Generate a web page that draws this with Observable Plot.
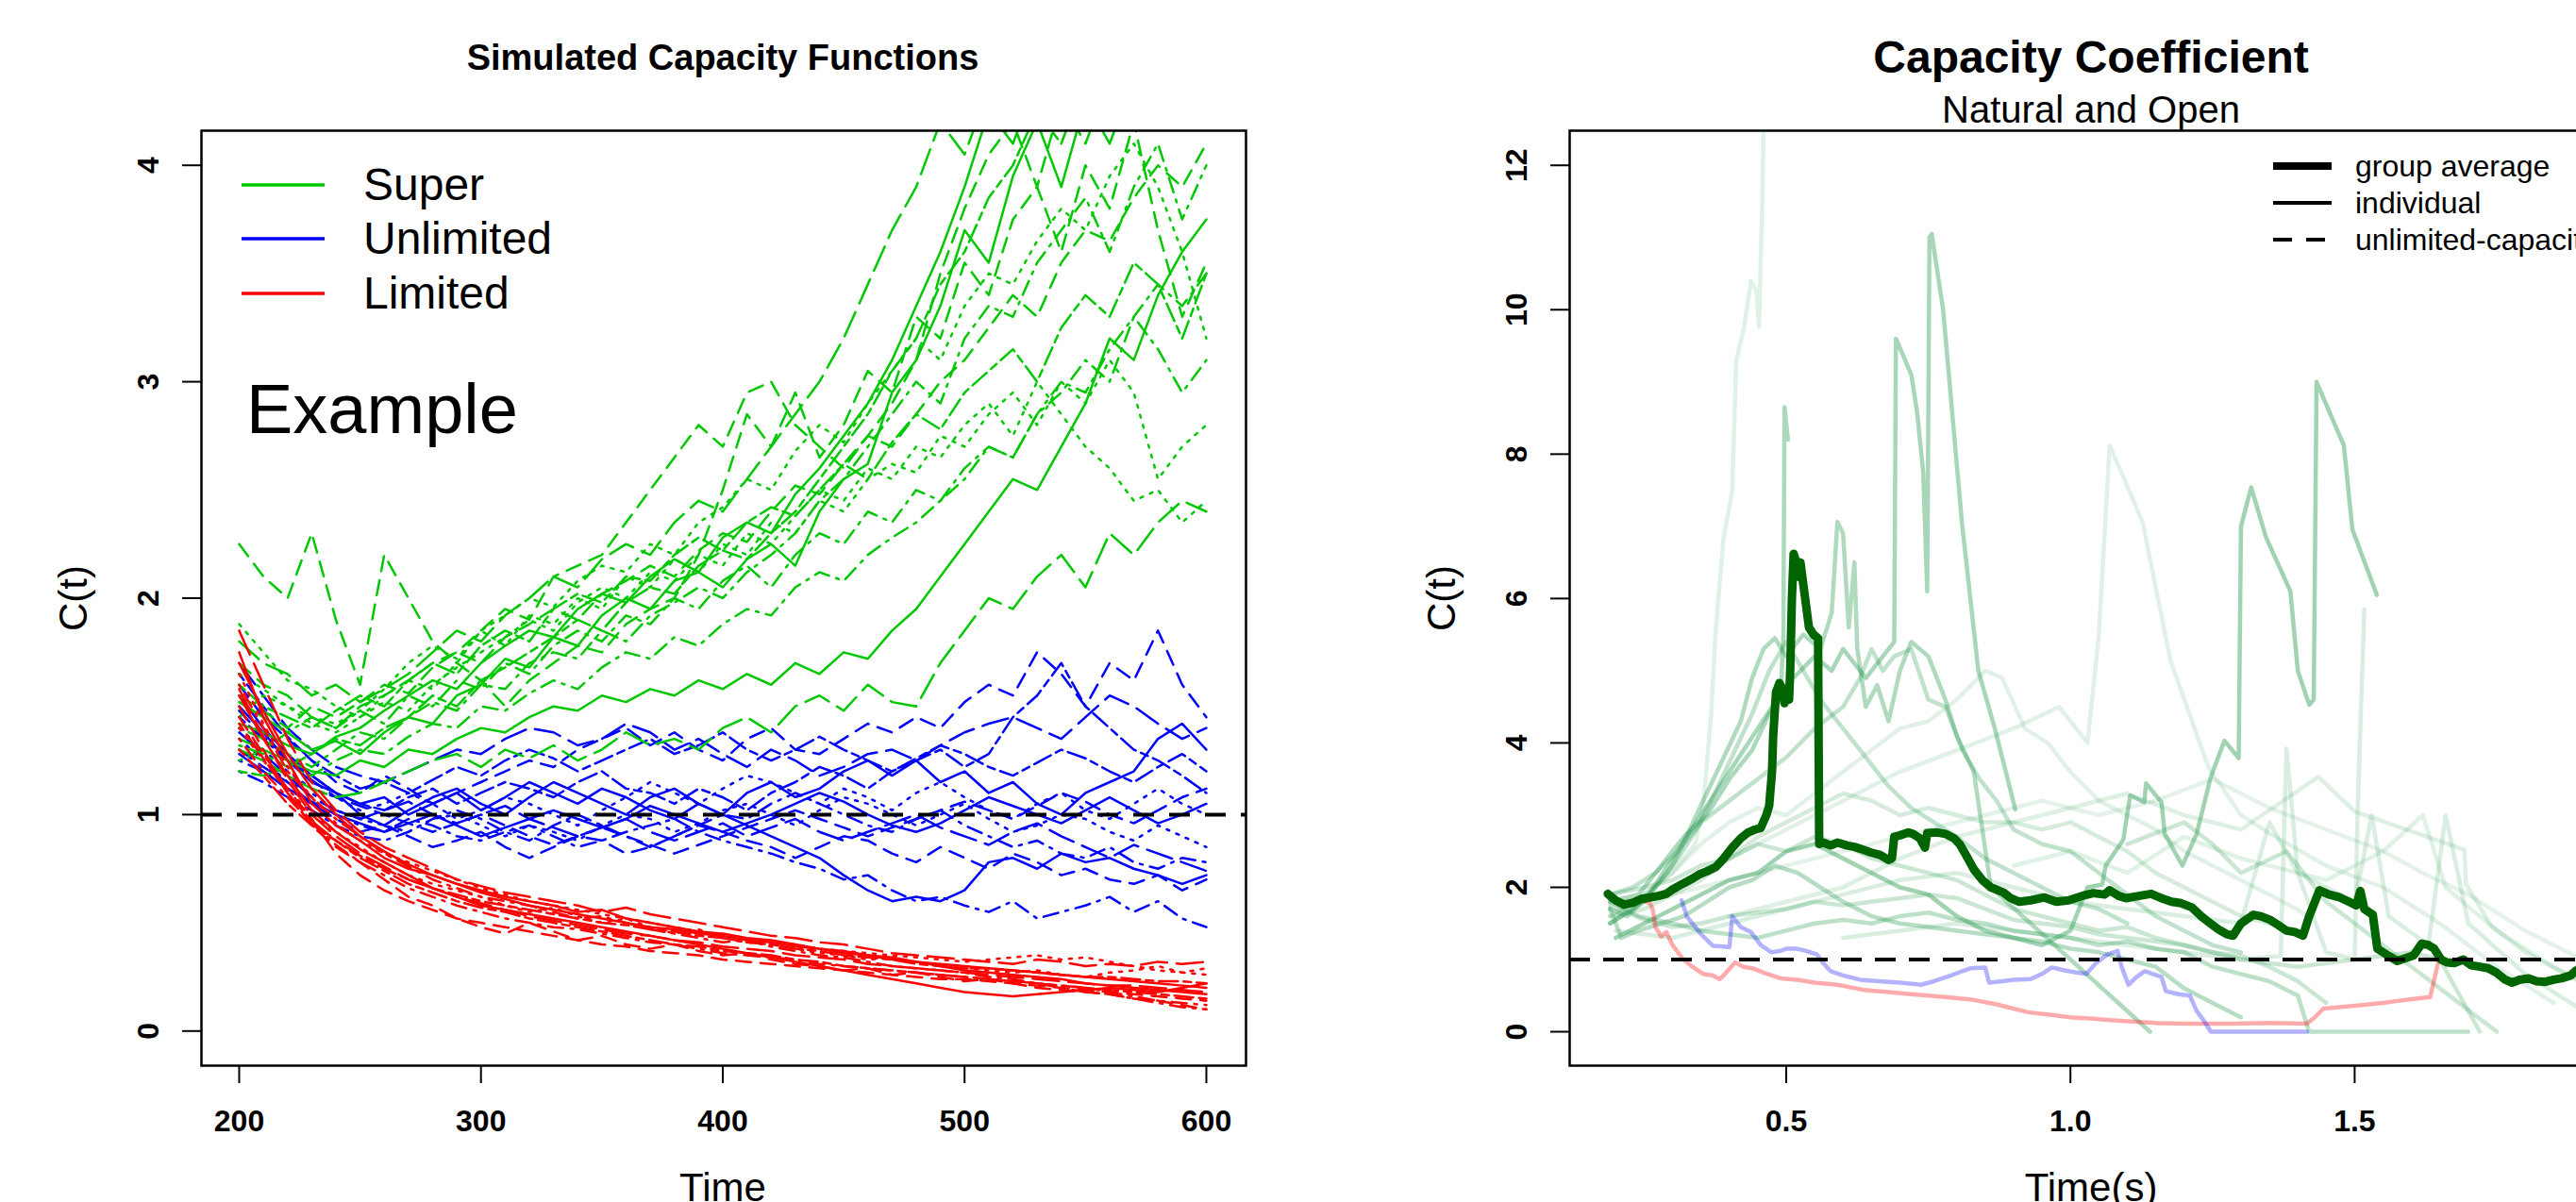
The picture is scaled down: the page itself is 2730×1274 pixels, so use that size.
<!DOCTYPE html>
<html><head><meta charset="utf-8">
<script src="https://cdn.jsdelivr.net/npm/d3@7"></script>
<script src="https://cdn.jsdelivr.net/npm/@observablehq/plot@0.6"></script>
<style>
html,body{margin:0;padding:0;background:#fff;overflow:hidden}
#wrap{position:relative;width:2730px;height:1274px;overflow:hidden;background:#fff;font-family:'Liberation Sans',Arial,Helvetica,sans-serif;color:#000}
.t{position:absolute;white-space:nowrap;line-height:1}
.p{position:absolute;top:0}
.p svg{max-width:none !important}
</style></head><body><div id="wrap"><div id="left" class="p" style="left:0;width:1365px;height:1274px"></div><div id="right" class="p" style="left:1365px;width:1450px;height:1274px"></div></div>
<script>
// ---------- LEFT PANEL DATA: Simulated Capacity Functions ----------
const timeGrid = [200,210,220,230,240,250,260,270,280,290,300,310,320,330,340,350,360,370,380,390,400,410,420,430,440,450,460,470,480,490,500,510,520,530,540,550,560,570,580,590,600];
const leftYTicks = [0,1,2,3,4];
const leftXTicks = [200,300,400,500,600];

const super01 = [1.52,1.45,1.38,1.30,1.34,1.28,1.38,1.45,1.42,1.55,1.60,1.72,1.68,1.82,1.78,1.92,2.00,1.95,2.08,2.12,2.05,2.18,2.25,2.15,2.40,2.55,2.62,2.95,3.10,3.35,3.70,3.55,3.95,4.20,3.90,4.30,4.10,4.40,4.25,4.35,4.50];
const super02 = [2.25,2.10,2.00,2.30,1.90,1.60,2.20,2.00,1.80,1.70,1.62,1.50,1.62,1.70,1.78,1.75,1.88,1.95,2.00,2.20,2.50,2.85,2.70,2.95,2.65,2.80,3.05,2.95,3.30,3.20,3.55,3.40,3.75,3.90,3.60,4.00,3.80,4.20,3.70,3.30,3.55];
const super03 = [1.88,1.75,1.62,1.58,1.50,1.45,1.55,1.62,1.58,1.70,1.85,1.78,1.92,1.88,2.00,1.95,2.10,2.05,2.18,2.12,2.25,2.20,2.35,2.30,2.45,2.40,2.55,2.62,2.58,2.75,2.70,2.85,2.95,2.80,3.00,2.90,3.10,2.95,2.55,2.70,2.80];
const super04 = [1.40,1.35,1.28,1.22,1.30,1.38,1.35,1.45,1.52,1.48,1.60,1.58,1.70,1.75,1.72,1.85,1.80,1.92,1.98,2.05,2.00,2.12,2.20,2.30,2.45,2.55,2.70,2.85,3.00,2.90,3.20,3.35,3.30,3.55,3.70,3.85,3.60,3.90,4.10,3.75,4.00];
const super05 = [1.30,1.25,1.18,1.12,1.08,1.10,1.15,1.20,1.25,1.28,1.22,1.30,1.26,1.32,1.25,1.30,1.38,1.32,1.35,1.30,1.40,1.45,1.38,1.50,1.55,1.48,1.60,1.52,1.50,1.70,1.85,2.00,1.95,2.10,2.20,2.05,2.30,2.20,2.35,2.45,2.40];
const super06 = [1.60,1.50,1.45,1.40,1.48,1.55,1.50,1.62,1.70,1.65,1.78,1.85,1.80,1.95,2.02,1.98,2.10,2.08,2.20,2.28,2.22,2.35,2.42,2.38,2.50,2.62,2.55,2.72,2.85,2.78,2.95,3.05,3.15,3.00,3.25,3.40,3.30,3.55,3.45,3.20,3.50];
const super07 = [1.35,1.30,1.25,1.20,1.18,1.25,1.22,1.30,1.28,1.35,1.40,1.38,1.45,1.50,1.48,1.55,1.52,1.58,1.55,1.62,1.58,1.65,1.60,1.70,1.65,1.75,1.72,1.85,1.95,2.10,2.25,2.40,2.55,2.50,2.70,2.90,3.20,3.10,3.40,3.60,3.75];
const super08 = [1.70,1.60,1.55,1.45,1.40,1.50,1.55,1.62,1.70,1.75,1.85,1.95,1.90,2.10,2.15,2.20,2.35,2.50,2.65,2.80,2.70,2.95,3.00,2.80,2.70,2.60,2.75,2.90,3.10,3.50,3.80,4.05,4.20,3.90,4.30,4.10,4.40,4.20,4.50,4.30,4.40];
const super09 = [1.45,1.55,1.50,1.42,1.38,1.45,1.52,1.48,1.60,1.68,1.75,1.82,1.90,1.85,1.98,2.05,2.00,2.12,2.08,2.20,2.15,2.30,2.25,2.38,2.50,2.45,2.60,2.55,2.70,2.65,2.80,2.90,2.75,3.00,2.85,2.70,2.60,2.45,2.50,2.35,2.45];
const super10 = [1.25,1.30,1.38,1.45,1.40,1.48,1.42,1.55,1.50,1.62,1.58,1.70,1.65,1.78,1.85,1.80,1.92,1.88,2.00,1.95,2.08,2.15,2.05,2.20,2.30,2.25,2.40,2.35,2.50,2.45,2.60,2.70,2.65,2.85,2.95,3.10,3.00,3.30,3.15,2.95,3.10];
const super11 = [1.80,1.70,1.65,1.55,1.60,1.52,1.58,1.65,1.75,1.85,1.80,1.92,2.00,2.10,2.05,2.18,2.25,2.20,2.35,2.45,2.40,2.55,2.70,2.85,3.00,3.20,3.45,3.70,3.90,4.20,4.05,4.35,4.20,4.50,4.30,4.60,4.40,4.70,4.50,4.80,4.60];
const super12 = [1.20,1.18,1.22,1.28,1.35,1.32,1.40,1.45,1.55,1.50,1.62,1.68,1.75,1.82,1.90,1.85,1.98,2.05,2.02,2.15,2.22,2.18,2.30,2.40,2.55,2.70,2.85,3.05,3.20,3.45,3.60,3.85,4.00,4.25,4.10,4.40,4.30,4.55,4.45,4.60,4.70];
const super13 = [1.42,1.38,1.32,1.28,1.36,1.40,1.48,1.55,1.62,1.58,1.70,1.78,1.85,1.82,1.95,2.02,1.98,2.10,2.18,2.12,2.28,2.35,2.30,2.48,2.60,2.75,2.90,3.10,3.35,3.60,3.90,4.25,4.10,4.40,4.30,4.60,4.45,4.70,4.55,4.80,4.70];
const super14 = [1.55,1.48,1.40,1.50,1.45,1.52,1.60,1.56,1.68,1.75,1.70,1.82,1.88,1.95,1.90,2.02,2.08,2.15,2.10,2.22,2.30,2.26,2.40,2.52,2.48,2.62,2.75,2.70,2.85,3.00,3.10,3.25,3.40,3.30,3.55,3.70,3.65,3.85,4.00,3.90,4.10];
const super15 = [1.65,1.58,1.50,1.45,1.42,1.48,1.58,1.70,1.78,1.72,1.85,1.92,2.00,1.96,2.08,2.15,2.12,2.25,2.20,2.35,2.42,2.55,2.50,2.68,2.80,2.72,2.90,3.05,3.20,3.10,3.35,3.50,3.45,3.65,3.80,3.70,3.95,4.10,3.90,3.60,3.20];
const super16 = [1.32,1.28,1.22,1.18,1.25,1.30,1.28,1.36,1.42,1.40,1.50,1.48,1.56,1.62,1.58,1.68,1.75,1.72,1.82,1.78,1.88,1.95,1.92,2.05,2.12,2.08,2.20,2.28,2.35,2.45,2.55,2.70,2.65,2.85,3.00,2.95,3.15,3.30,3.45,3.35,3.50];

const unlim01 = [1.50,1.38,1.25,1.15,1.10,1.05,1.08,1.00,1.05,1.10,1.02,1.08,1.15,1.10,1.05,1.12,1.08,1.02,0.98,1.05,1.00,0.95,0.90,0.85,0.80,0.72,0.65,0.60,0.62,0.60,0.65,0.78,0.80,0.75,0.82,0.78,0.80,0.75,0.72,0.68,0.72];
const unlim02 = [1.60,1.45,1.35,1.25,1.15,1.10,1.18,1.12,1.05,1.10,1.15,1.20,1.25,1.22,1.30,1.35,1.40,1.32,1.38,1.30,1.25,1.35,1.40,1.30,1.28,1.35,1.42,1.38,1.45,1.40,1.52,1.60,1.55,1.75,1.65,1.50,1.70,1.62,1.85,1.60,1.45];
const unlim03 = [1.35,1.25,1.15,1.10,1.02,0.98,0.95,0.92,0.98,1.00,0.95,0.90,0.95,0.92,0.88,0.95,1.00,0.98,0.92,0.96,1.02,1.05,1.00,0.95,1.02,1.08,1.05,1.00,0.95,1.00,1.05,0.98,0.92,0.95,1.00,0.98,0.92,0.88,0.95,0.90,0.85];
const unlim04 = [1.25,1.20,1.12,1.05,1.00,0.95,0.92,0.98,0.95,0.90,0.88,0.92,0.95,0.90,0.85,0.88,0.92,0.95,0.98,0.92,0.88,0.85,0.82,0.78,0.75,0.70,0.72,0.65,0.60,0.62,0.58,0.55,0.60,0.52,0.55,0.58,0.62,0.55,0.60,0.52,0.48];
const unlim05 = [1.70,1.55,1.40,1.30,1.22,1.18,1.15,1.20,1.25,1.30,1.28,1.35,1.40,1.38,1.32,1.35,1.42,1.38,1.30,1.35,1.28,1.22,1.30,1.25,1.18,1.22,1.28,1.30,1.25,1.32,1.38,1.42,1.45,1.40,1.35,1.45,1.55,1.50,1.42,1.35,1.40];
const unlim06 = [1.45,1.35,1.25,1.18,1.10,1.05,1.02,1.08,1.12,1.05,1.10,1.15,1.12,1.08,1.15,1.20,1.12,1.10,1.05,1.12,1.08,1.02,1.10,1.15,1.22,1.18,1.12,1.20,1.25,1.30,1.22,1.28,1.45,1.55,1.70,1.50,1.40,1.30,1.25,1.18,1.10];
const unlim07 = [1.55,1.40,1.28,1.18,1.10,1.00,0.95,1.02,1.08,1.12,1.05,1.00,1.08,1.15,1.10,1.05,1.00,1.08,1.12,1.05,1.00,1.10,1.15,1.08,1.12,1.20,1.25,1.18,1.25,1.15,1.20,1.10,1.15,1.05,1.00,1.10,1.15,1.20,1.35,1.42,1.30];
const unlim08 = [1.30,1.22,1.15,1.05,0.98,0.92,0.95,0.90,0.85,0.88,0.92,0.85,0.80,0.85,0.90,0.88,0.82,0.85,0.90,0.95,0.92,0.88,0.85,0.80,0.85,0.90,0.88,0.82,0.78,0.85,0.80,0.75,0.82,0.78,0.72,0.75,0.70,0.68,0.72,0.65,0.70];
const unlim09 = [1.40,1.30,1.20,1.12,1.08,1.02,1.05,1.10,1.05,0.98,1.02,1.08,1.05,1.00,0.95,1.02,1.08,1.15,1.10,1.05,1.12,1.18,1.15,1.10,1.05,1.12,1.08,1.02,1.10,1.15,1.08,1.02,0.98,1.05,1.10,1.02,0.98,1.05,1.12,1.05,1.00];
const unlim10 = [1.20,1.15,1.08,1.02,0.95,0.90,0.88,0.92,0.98,1.02,0.98,0.92,0.88,0.95,1.00,0.95,0.90,0.85,0.90,0.95,1.00,0.98,1.05,1.10,1.05,1.00,0.95,0.92,0.98,1.02,0.95,0.90,0.85,0.88,0.82,0.80,0.85,0.78,0.75,0.80,0.78];
const unlim11 = [1.38,1.28,1.18,1.08,1.02,0.98,1.02,1.06,1.00,0.96,1.00,1.04,0.98,0.94,0.90,0.94,0.98,0.92,0.88,0.92,0.96,0.90,0.94,0.98,0.92,0.88,0.92,0.96,1.00,0.94,0.90,0.86,0.92,0.96,0.90,0.85,0.80,0.86,0.82,0.78,0.74];
const unlim12 = [1.65,1.50,1.36,1.25,1.18,1.12,1.15,1.10,1.16,1.22,1.18,1.25,1.30,1.26,1.20,1.25,1.30,1.35,1.28,1.32,1.38,1.30,1.25,1.30,1.36,1.30,1.25,1.20,1.26,1.32,1.28,1.22,1.18,1.24,1.30,1.26,1.20,1.15,1.22,1.28,1.20];
const unlim13 = [1.28,1.20,1.12,1.06,1.00,0.96,0.92,0.96,1.00,0.95,0.90,0.94,0.98,1.02,0.98,0.94,0.98,1.04,1.00,0.96,0.92,0.96,1.00,1.05,1.10,1.06,1.00,0.95,0.92,0.96,1.02,1.08,1.04,1.00,0.96,1.02,1.08,1.02,0.96,1.00,1.05];
const unlim14 = [1.48,1.36,1.26,1.16,1.08,1.04,1.00,0.96,0.92,0.96,1.00,0.95,0.90,0.86,0.90,0.94,0.90,0.86,0.82,0.86,0.90,0.94,0.98,1.02,0.98,0.94,0.90,0.94,0.98,1.02,1.06,1.02,0.98,1.04,1.10,1.06,1.00,0.96,1.02,1.08,1.12];

const limit01 = [1.75,1.45,1.25,1.05,0.95,0.88,0.80,0.75,0.72,0.68,0.65,0.62,0.60,0.58,0.55,0.56,0.52,0.50,0.48,0.46,0.45,0.43,0.42,0.40,0.38,0.37,0.35,0.33,0.32,0.30,0.28,0.27,0.26,0.25,0.24,0.22,0.21,0.20,0.19,0.18,0.17];
const limit02 = [1.50,1.30,1.10,0.95,0.85,0.78,0.70,0.62,0.58,0.52,0.48,0.45,0.50,0.46,0.42,0.44,0.40,0.38,0.40,0.37,0.35,0.36,0.33,0.31,0.30,0.28,0.29,0.26,0.27,0.25,0.23,0.24,0.22,0.20,0.19,0.18,0.17,0.15,0.14,0.12,0.10];
const limit03 = [1.40,1.25,1.12,1.00,0.92,0.85,0.78,0.72,0.68,0.65,0.62,0.58,0.55,0.57,0.53,0.50,0.52,0.48,0.45,0.47,0.43,0.41,0.40,0.38,0.36,0.35,0.33,0.34,0.32,0.30,0.29,0.28,0.27,0.28,0.26,0.25,0.27,0.28,0.30,0.27,0.29];
const limit04 = [1.60,1.40,1.20,1.08,0.98,0.90,0.82,0.76,0.70,0.66,0.62,0.60,0.58,0.55,0.52,0.53,0.50,0.47,0.45,0.43,0.41,0.42,0.39,0.37,0.35,0.34,0.32,0.30,0.29,0.28,0.27,0.25,0.24,0.22,0.21,0.20,0.18,0.16,0.14,0.13,0.12];
const limit05 = [1.85,1.60,1.35,1.15,1.02,0.92,0.85,0.80,0.75,0.70,0.67,0.64,0.62,0.60,0.58,0.55,0.57,0.54,0.52,0.50,0.48,0.46,0.44,0.43,0.41,0.40,0.38,0.36,0.35,0.34,0.33,0.32,0.31,0.33,0.32,0.30,0.31,0.30,0.32,0.31,0.32];
const limit06 = [1.30,1.18,1.05,0.95,0.88,0.80,0.74,0.68,0.64,0.60,0.57,0.55,0.52,0.50,0.48,0.46,0.44,0.42,0.40,0.39,0.37,0.36,0.35,0.33,0.32,0.30,0.29,0.28,0.27,0.26,0.25,0.24,0.23,0.22,0.21,0.20,0.19,0.18,0.17,0.16,0.15];
const limit07 = [1.55,1.35,1.18,1.02,0.92,0.84,0.78,0.72,0.66,0.62,0.58,0.56,0.54,0.52,0.50,0.48,0.46,0.44,0.42,0.40,0.38,0.36,0.34,0.32,0.30,0.28,0.26,0.24,0.22,0.20,0.18,0.17,0.16,0.17,0.18,0.19,0.20,0.19,0.18,0.20,0.22];
const limit08 = [1.45,1.28,1.12,0.98,0.82,0.72,0.65,0.60,0.56,0.52,0.50,0.48,0.46,0.44,0.42,0.40,0.39,0.37,0.36,0.35,0.33,0.32,0.31,0.30,0.29,0.28,0.27,0.26,0.25,0.24,0.24,0.23,0.22,0.21,0.20,0.19,0.18,0.17,0.16,0.15,0.14];
const limit09 = [1.65,1.42,1.22,1.08,0.96,0.88,0.82,0.78,0.74,0.70,0.66,0.63,0.60,0.58,0.56,0.54,0.52,0.50,0.48,0.46,0.44,0.43,0.41,0.40,0.38,0.37,0.36,0.35,0.34,0.33,0.32,0.33,0.34,0.35,0.33,0.34,0.32,0.30,0.28,0.27,0.26];
const limit10 = [1.35,1.20,1.08,0.96,0.86,0.78,0.72,0.66,0.62,0.58,0.55,0.52,0.50,0.48,0.47,0.45,0.43,0.41,0.40,0.38,0.36,0.35,0.34,0.33,0.31,0.30,0.29,0.28,0.27,0.26,0.25,0.24,0.23,0.22,0.20,0.18,0.17,0.15,0.13,0.11,0.10];
const limit11 = [1.58,1.36,1.16,1.00,0.90,0.82,0.76,0.70,0.66,0.62,0.59,0.56,0.53,0.51,0.49,0.47,0.45,0.44,0.42,0.41,0.39,0.38,0.37,0.35,0.34,0.33,0.31,0.30,0.29,0.28,0.27,0.26,0.25,0.24,0.23,0.22,0.21,0.21,0.20,0.19,0.18];
const limit12 = [1.42,1.26,1.10,0.97,0.88,0.81,0.75,0.70,0.66,0.63,0.60,0.58,0.56,0.54,0.52,0.50,0.49,0.47,0.46,0.44,0.43,0.41,0.40,0.38,0.37,0.35,0.34,0.33,0.31,0.30,0.29,0.29,0.28,0.27,0.26,0.25,0.25,0.24,0.23,0.23,0.22];
const limit13 = [1.70,1.48,1.28,1.12,1.00,0.90,0.83,0.77,0.72,0.68,0.64,0.61,0.58,0.56,0.54,0.52,0.50,0.48,0.47,0.45,0.44,0.42,0.41,0.39,0.38,0.36,0.35,0.34,0.32,0.31,0.30,0.29,0.28,0.27,0.26,0.25,0.24,0.23,0.22,0.21,0.20];

const leftGroups = ["Super","Unlimited","Limited"];
const superSeries = [super01,super02,super03,super04,super05,super06,super07,super08,super09,super10,super11,super12,super13,super14,super15,super16];
const unlimSeries = [unlim01,unlim02,unlim03,unlim04,unlim05,unlim06,unlim07,unlim08,unlim09,unlim10,unlim11,unlim12,unlim13,unlim14];
const limitSeries = [limit01,limit02,limit03,limit04,limit05,limit06,limit07,limit08,limit09,limit10,limit11,limit12,limit13];

// ---------- RIGHT PANEL DATA: Capacity Coefficient, Natural and Open ----------
const rightYTicks = [0,2,4,6,8,10,12];
const rightXTicks = [0.5,1.0,1.5];

const groupAverage = [[0.186,1.91],[0.195,1.85],[0.202,1.81],[0.215,1.76],[0.231,1.79],[0.245,1.84],[0.26,1.86],[0.275,1.88],[0.289,1.91],[0.30,1.97],[0.318,2.05],[0.335,2.12],[0.347,2.18],[0.36,2.22],[0.376,2.28],[0.39,2.40],[0.405,2.55],[0.42,2.68],[0.433,2.76],[0.445,2.80],[0.455,2.82],[0.465,3.0],[0.47,3.13],[0.475,3.6],[0.477,4.09],[0.482,4.7],[0.488,4.83],[0.493,4.75],[0.497,4.55],[0.50,4.65],[0.505,4.6],[0.507,5.0],[0.510,6.0],[0.513,6.62],[0.518,6.5],[0.522,6.3],[0.525,6.5],[0.53,6.2],[0.535,5.9],[0.540,5.6],[0.548,5.5],[0.556,5.45],[0.558,2.6],[0.565,2.62],[0.578,2.58],[0.59,2.62],[0.607,2.58],[0.62,2.56],[0.636,2.52],[0.65,2.48],[0.665,2.45],[0.68,2.38],[0.686,2.4],[0.69,2.7],[0.70,2.72],[0.715,2.76],[0.723,2.74],[0.735,2.68],[0.744,2.55],[0.748,2.75],[0.766,2.76],[0.78,2.74],[0.795,2.68],[0.805,2.6],[0.816,2.45],[0.83,2.25],[0.845,2.1],[0.86,2.0],[0.882,1.93],[0.895,1.85],[0.910,1.8],[0.93,1.82],[0.954,1.86],[0.975,1.80],[0.997,1.82],[1.02,1.88],[1.04,1.92],[1.06,1.9],[1.069,1.96],[1.085,1.88],[1.098,1.85],[1.12,1.88],[1.142,1.91],[1.16,1.85],[1.178,1.80],[1.195,1.78],[1.214,1.72],[1.23,1.6],[1.243,1.52],[1.26,1.42],[1.275,1.35],[1.286,1.33],[1.30,1.5],[1.322,1.62],[1.335,1.6],[1.351,1.55],[1.365,1.48],[1.380,1.40],[1.395,1.38],[1.409,1.33],[1.42,1.6],[1.438,1.96],[1.455,1.9],[1.474,1.86],[1.49,1.8],[1.503,1.75],[1.51,1.95],[1.517,1.7],[1.532,1.62],[1.54,1.15],[1.546,1.12],[1.56,1.05],[1.575,0.98],[1.59,1.02],[1.604,1.06],[1.618,1.22],[1.63,1.2],[1.640,1.15],[1.652,1.0],[1.662,0.96],[1.675,0.95],[1.691,1.0],[1.705,0.92],[1.720,0.90],[1.735,0.88],[1.749,0.82],[1.765,0.72],[1.777,0.68],[1.79,0.72],[1.806,0.74],[1.82,0.70],[1.835,0.69],[1.85,0.72],[1.864,0.74],[1.88,0.78],[1.89,0.85],[1.91,0.9]];

const limitedPath = [[0.247,1.82],[0.26,1.78],[0.265,1.7],[0.27,1.45],[0.28,1.32],[0.289,1.38],[0.30,1.2],[0.318,1.01],[0.335,0.9],[0.354,0.80],[0.37,0.78],[0.383,0.73],[0.39,0.78],[0.41,0.96],[0.425,0.9],[0.44,0.88],[0.46,0.82],[0.49,0.74],[0.52,0.72],[0.55,0.68],[0.59,0.65],[0.636,0.58],[0.68,0.55],[0.72,0.52],[0.78,0.48],[0.83,0.44],[0.87,0.38],[0.925,0.27],[0.96,0.24],[1.00,0.20],[1.04,0.18],[1.07,0.16],[1.11,0.14],[1.15,0.12],[1.214,0.11],[1.28,0.11],[1.35,0.12],[1.416,0.11],[1.43,0.2],[1.445,0.32],[1.50,0.36],[1.55,0.40],[1.60,0.45],[1.633,0.48],[1.647,0.96]];

const unlimitedPath = [[0.316,1.82],[0.325,1.6],[0.335,1.50],[0.35,1.35],[0.371,1.19],[0.39,1.18],[0.40,1.17],[0.405,1.6],[0.408,1.57],[0.42,1.45],[0.438,1.38],[0.455,1.2],[0.474,1.10],[0.49,1.12],[0.50,1.15],[0.518,1.15],[0.535,1.12],[0.554,1.07],[0.565,0.95],[0.578,0.84],[0.60,0.78],[0.63,0.72],[0.663,0.70],[0.70,0.68],[0.737,0.65],[0.76,0.70],[0.79,0.78],[0.81,0.84],[0.825,0.88],[0.85,0.89],[0.857,0.68],[0.88,0.70],[0.90,0.72],[0.93,0.73],[0.95,0.80],[0.967,0.89],[0.99,0.85],[1.01,0.82],[1.028,0.80],[1.045,0.95],[1.065,1.07],[1.083,1.12],[1.09,0.9],[1.102,0.65],[1.115,0.75],[1.131,0.84],[1.145,0.8],[1.16,0.76],[1.168,0.56],[1.19,0.52],[1.21,0.50],[1.222,0.29],[1.235,0.15],[1.247,0.0],[1.416,0.0]];

const indiv01 = [[0.19,1.6],[0.25,1.9],[0.30,2.2],[0.34,2.6],[0.354,3.13],[0.368,4.4],[0.376,5.57],[0.39,6.85],[0.405,7.49],[0.412,9.29],[0.426,9.77],[0.438,10.4],[0.448,10.25],[0.452,9.77],[0.458,11.5],[0.462,13.5]];
const indiv02 = [[0.19,1.8],[0.24,1.9],[0.28,2.3],[0.32,2.7],[0.36,3.0],[0.40,3.5],[0.44,3.9],[0.47,4.4],[0.49,4.6],[0.495,5.5],[0.497,8.65],[0.503,8.2]];
const indiv03 = [[0.19,1.5],[0.25,1.8],[0.30,2.4],[0.35,3.0],[0.40,3.6],[0.45,4.2],[0.50,4.8],[0.55,5.2],[0.58,5.0],[0.60,5.3],[0.64,4.9],[0.67,5.2],[0.69,5.4],[0.693,9.6],[0.72,9.1],[0.73,8.6],[0.741,7.75],[0.748,6.1],[0.752,11.0],[0.756,11.05],[0.776,10.0],[0.809,7.06],[0.838,5.0],[0.867,4.2],[0.903,3.08]];
const indiv04 = [[0.20,1.3],[0.25,1.5],[0.30,1.7],[0.35,1.9],[0.40,2.1],[0.45,2.2],[0.50,2.5],[0.55,2.6],[0.60,2.4],[0.65,2.2],[0.70,2.0],[0.75,1.9],[0.80,1.6],[0.85,1.4],[0.90,1.3],[0.95,1.2],[1.00,1.4],[1.03,2.0],[1.056,2.04],[1.062,2.3],[1.093,2.66],[1.105,3.27],[1.13,3.18],[1.133,3.44],[1.16,3.18],[1.166,2.74],[1.197,2.30],[1.222,2.74],[1.247,3.53],[1.271,4.03],[1.296,3.79],[1.30,7.0],[1.318,7.54],[1.344,6.85],[1.387,6.1],[1.40,5.0],[1.42,4.53],[1.428,4.6],[1.433,9.0],[1.481,8.12],[1.496,6.96],[1.539,6.05]];
const indiv05 = [[0.30,2.0],[0.40,2.4],[0.50,2.8],[0.60,3.2],[0.70,3.6],[0.80,3.9],[0.90,4.2],[0.98,4.5],[1.03,4.0],[1.05,5.5],[1.069,8.12],[1.127,7.06],[1.176,5.14],[1.243,3.66],[1.30,3.0],[1.358,2.71],[1.45,2.3],[1.55,2.0],[1.65,1.5],[1.75,0.9],[1.85,0.4]];
const indiv06 = [[0.60,1.3],[0.70,1.4],[0.80,1.5],[0.90,1.4],[1.00,1.3],[1.10,1.2],[1.20,1.1],[1.30,1.0],[1.37,1.05],[1.38,3.92],[1.40,2.2],[1.45,1.1],[1.50,1.0],[1.505,3.0],[1.517,5.85]];
const indiv07 = [[0.19,1.7],[0.22,1.6],[0.26,1.9],[0.30,2.3],[0.33,2.8],[0.36,3.3],[0.39,3.8],[0.42,4.3],[0.44,4.9],[0.46,5.3],[0.48,5.45],[0.50,5.2],[0.53,5.5],[0.56,5.3],[0.58,5.8],[0.59,7.06],[0.60,6.9],[0.61,5.6],[0.62,6.5],[0.625,5.3],[0.64,4.5],[0.66,4.8],[0.68,4.3],[0.70,5.0],[0.72,5.4],[0.75,5.2],[0.78,4.6],[0.80,4.1],[0.83,3.6],[0.86,2.0],[1.14,0.0]];
const indiv08 = [[0.19,1.9],[0.23,2.0],[0.27,2.2],[0.31,2.5],[0.35,2.9],[0.40,3.2],[0.45,3.5],[0.50,3.8],[0.55,4.2],[0.60,4.5],[0.63,4.9],[0.65,5.3],[0.67,5.0],[0.69,5.2],[0.72,5.3],[0.75,4.6],[0.78,4.5],[0.81,3.9],[0.84,3.5],[0.87,3.2],[0.90,2.8],[0.95,2.6],[1.00,2.5],[1.05,2.2],[1.10,1.9],[1.15,1.6],[1.20,1.4],[1.25,1.2],[1.30,1.1]];
const indiv09 = [[0.20,1.6],[0.25,1.9],[0.30,2.2],[0.35,2.6],[0.40,2.9],[0.45,3.1],[0.50,3.0],[0.55,3.3],[0.60,3.6],[0.65,3.9],[0.70,4.2],[0.75,4.3],[0.80,4.6],[0.85,5.0],[0.88,4.9],[0.92,4.2],[0.96,4.0],[1.00,3.6],[1.05,3.2],[1.10,3.0],[1.15,2.8],[1.20,2.5],[1.25,2.3],[1.30,2.1],[1.35,1.9],[1.42,1.6]];
const indiv10 = [[0.40,1.6],[0.50,1.8],[0.60,2.0],[0.70,2.4],[0.80,2.7],[0.90,2.9],[1.00,3.1],[1.10,3.3],[1.20,3.0],[1.30,2.8],[1.436,3.53],[1.50,3.05],[1.693,2.52],[1.696,2.04],[1.74,1.47],[1.80,1.1],[1.89,0.72]];
const indiv11 = [[0.19,1.8],[0.24,1.6],[0.30,1.5],[0.35,1.4],[0.40,1.35],[0.45,1.3],[0.50,1.4],[0.55,1.5],[0.60,1.55],[0.65,1.5],[0.70,1.6],[0.75,1.65],[0.80,1.55],[0.85,1.5],[0.90,1.4],[0.95,1.35],[1.00,1.3],[1.05,1.2],[1.10,1.25],[1.15,1.15],[1.20,1.1],[1.25,0.9],[1.30,0.8],[1.35,0.7],[1.40,0.5],[1.42,0.0],[1.70,0.0]];
const indiv12 = [[0.19,1.9],[0.25,2.0],[0.30,2.1],[0.35,2.3],[0.40,2.4],[0.45,2.6],[0.50,2.5],[0.55,2.7],[0.60,2.6],[0.65,2.4],[0.70,2.3],[0.75,2.2],[0.80,2.1],[0.85,1.9],[0.90,1.7],[0.95,1.6],[1.00,1.5],[1.05,1.4],[1.10,1.45],[1.15,1.3],[1.20,1.2],[1.30,1.0],[1.40,0.9],[1.50,1.0],[1.60,1.1],[1.65,1.0],[1.72,0.0]];
const indiv13 = [[0.25,1.8],[0.35,2.0],[0.45,2.2],[0.55,2.4],[0.65,2.6],[0.75,2.8],[0.85,3.0],[0.95,3.2],[1.05,3.0],[1.15,3.2],[1.25,3.5],[1.35,3.1],[1.45,2.8],[1.55,2.5],[1.62,2.2],[1.70,1.9],[1.80,1.4],[1.90,1.0]];
const indiv14 = [[0.20,1.4],[0.30,1.3],[0.40,1.5],[0.50,1.7],[0.60,1.9],[0.70,2.1],[0.80,2.2],[0.90,2.0],[1.00,1.8],[1.10,1.7],[1.20,1.6],[1.30,1.5],[1.35,2.9],[1.40,2.2],[1.50,1.8],[1.53,3.0],[1.56,1.6],[1.63,1.2],[1.66,3.0],[1.70,1.5],[1.80,0.8],[1.90,0.3]];
const indiv15 = [[0.19,1.7],[0.21,1.3],[0.24,1.4],[0.28,1.5],[0.32,1.6],[0.36,1.8],[0.40,2.0],[0.44,2.1],[0.48,2.3],[0.52,2.2],[0.56,2.0],[0.60,1.8],[0.65,1.6],[0.70,1.5],[0.75,1.45],[0.80,1.4],[0.85,1.35],[0.90,1.3],[0.95,1.25],[1.00,1.15],[1.05,1.1],[1.10,1.0],[1.15,0.9],[1.20,0.6],[1.25,0.4],[1.30,0.2]];
const indiv16 = [[0.19,1.5],[0.23,1.7],[0.27,2.0],[0.31,2.4],[0.35,2.9],[0.38,3.4],[0.41,3.9],[0.44,4.4],[0.47,5.0],[0.50,5.4],[0.53,5.0],[0.56,4.6],[0.60,4.2],[0.64,3.8],[0.68,3.4],[0.72,3.1],[0.76,2.9],[0.80,2.7],[0.85,2.4],[0.90,2.2],[0.95,2.0],[1.00,1.8],[1.05,1.7],[1.10,1.5]];
const indiv17 = [[0.19,1.6],[0.25,1.7],[0.30,1.9],[0.35,2.1],[0.40,2.4],[0.45,2.7],[0.50,2.9],[0.55,3.1],[0.60,3.3],[0.65,3.2],[0.70,3.0],[0.75,3.1],[0.80,3.0],[0.85,2.9],[0.90,2.9],[0.95,2.8],[1.00,2.9],[1.05,2.7],[1.10,2.5],[1.15,2.2],[1.20,2.0],[1.25,1.8],[1.30,1.6],[1.35,1.5]];
const indiv18 = [[0.19,1.75],[0.25,1.55],[0.30,1.45],[0.35,1.5],[0.40,1.6],[0.45,1.65],[0.50,1.7],[0.55,1.8],[0.60,1.75],[0.65,1.8],[0.70,1.85],[0.75,1.9],[0.80,1.85],[0.85,1.7],[0.90,1.55],[0.95,1.5],[1.00,1.45],[1.05,1.35],[1.10,1.3],[1.15,1.25],[1.20,1.2],[1.25,1.1],[1.30,1.05],[1.35,0.9],[1.40,0.7],[1.45,0.4]];
const indiv19 = [[1.10,2.6],[1.20,2.9],[1.25,2.6],[1.30,2.2],[1.38,2.5],[1.45,1.8],[1.55,1.2],[1.65,0.6],[1.75,0.0]];
const indiv20 = [[0.90,2.3],[1.00,2.5],[1.10,2.2],[1.20,2.7],[1.30,2.4],[1.45,2.1],[1.55,2.5],[1.62,3.0],[1.66,2.0],[1.75,1.4],[1.85,0.9],[1.95,0.5]];
const indivSeries = [indiv01,indiv02,indiv03,indiv04,indiv05,indiv06,indiv07,indiv08,indiv09,indiv10,indiv11,indiv12,indiv13,indiv14,indiv15,indiv16,indiv17,indiv18,indiv19,indiv20];
const indivShade = [0.15,0.40,0.42,0.45,0.14,0.18,0.38,0.30,0.14,0.16,0.32,0.25,0.13,0.18,0.35,0.30,0.20,0.25,0.25,0.15];

// ---------- STYLES ----------
const FONT = "'Liberation Sans', Arial, Helvetica, sans-serif";
const groupColor = {Super: "#00c800", Unlimited: "#0000ff", Limited: "#ff0000"};
const dashes = [null, "16,10", "3,8", "3,8,16,8", "28,10", "8,6,20,6"];

function seriesMarks(series, color) {
  return series.map((vals, i) => Plot.line(
    timeGrid.map((t, j) => ({t, v: vals[j]})),
    {x: "t", y: "v", stroke: color, strokeWidth: 2.5, strokeDasharray: dashes[i % dashes.length] || undefined, clip: true}
  ));
}

const leftPlot = Plot.plot({
  width: 1365, height: 1274,
  marginLeft: 213, marginRight: 45, marginTop: 138, marginBottom: 145,
  style: {fontFamily: FONT, background: "transparent", color: "#000"},
  x: {domain: [184.4, 616.4]},
  y: {domain: [-0.16, 4.16]},
  marks: [
    ...seriesMarks(unlimSeries, groupColor.Unlimited),
    ...seriesMarks(superSeries, groupColor.Super),
    ...seriesMarks(limitSeries, groupColor.Limited),
    Plot.ruleY([1], {stroke: "#000", strokeWidth: 4, strokeDasharray: "22,16"}),
    Plot.frame({stroke: "#000", strokeWidth: 2.5}),
    Plot.axisX(leftXTicks, {tickSize: 19, tickPadding: 28, strokeWidth: 2, fontSize: 32, fontWeight: "bold", label: null}),
    Plot.axisY(leftYTicks, {tickSize: 20, strokeWidth: 2, tickFormat: () => "", label: null}),
    Plot.text(leftYTicks, {y: d => d, text: d => String(d), frameAnchor: "left", dx: -56, rotate: -90, fontSize: 32, fontWeight: "bold", textAnchor: "middle"})
  ]
});
document.getElementById("left").appendChild(leftPlot);

const rightPlot = Plot.plot({
  width: 1450, height: 1274,
  marginLeft: 298, marginRight: 46, marginTop: 138, marginBottom: 145,
  style: {fontFamily: FONT, background: "transparent", color: "#000"},
  x: {domain: [0.119, 1.955]},
  y: {domain: [-0.47, 12.48]},
  marks: [
    ...indivSeries.map((s, i) => Plot.line(s, {x: d => d[0], y: d => d[1], stroke: "#2f9e55", strokeOpacity: indivShade[i], strokeWidth: 4.5, strokeLinejoin: "round", clip: true})),
    Plot.line(limitedPath, {x: d => d[0], y: d => d[1], stroke: "#ff0000", strokeOpacity: 0.33, strokeWidth: 4.5, clip: true}),
    Plot.line(unlimitedPath, {x: d => d[0], y: d => d[1], stroke: "#0000ff", strokeOpacity: 0.3, strokeWidth: 4.5, clip: true}),
    Plot.line(groupAverage, {x: d => d[0], y: d => d[1], stroke: "#006400", strokeWidth: 9, strokeLinejoin: "round", clip: true}),
    Plot.ruleY([1], {stroke: "#000", strokeWidth: 4, strokeDasharray: "22,14"}),
    Plot.frame({stroke: "#000", strokeWidth: 2.5}),
    Plot.axisX(rightXTicks, {tickSize: 19, tickPadding: 28, strokeWidth: 2, fontSize: 32, fontWeight: "bold", tickFormat: d3.format(".1f"), label: null}),
    Plot.axisY(rightYTicks, {tickSize: 20, strokeWidth: 2, tickFormat: () => "", label: null}),
    Plot.text(rightYTicks, {y: d => d, text: d => String(d), frameAnchor: "left", dx: -56, rotate: -90, fontSize: 32, fontWeight: "bold", textAnchor: "middle"})
  ]
});
document.getElementById("right").appendChild(rightPlot);

// ---------- TEXT: titles, axis labels, legends ----------
const wrap = document.getElementById("wrap");
function addText(txt, x, y, size, opts = {}) {
  const d = document.createElement("div");
  d.className = "t";
  d.textContent = txt;
  d.style.left = x + "px";
  d.style.top = y + "px";
  d.style.fontSize = size + "px";
  d.style.fontWeight = opts.weight || "normal";
  const tx = opts.anchor === "start" ? "0" : "-50%";
  d.style.transform = `translate(${tx},-50%)` + (opts.rotate ? ` rotate(${opts.rotate}deg)` : "");
  wrap.appendChild(d);
  return d;
}
addText("Simulated Capacity Functions", 766, 61, 38, {weight: "bold"});
addText("Capacity Coefficient", 2216, 61, 48, {weight: "bold"});
addText("Natural and Open", 2216, 116, 40);
addText("C(t)", 78, 634, 42, {rotate: -90});
addText("C(t)", 1528, 634, 42, {rotate: -90});
addText("Time", 766, 1259, 42);
addText("Time(s)", 2216, 1259, 42);
addText("Example", 261, 434, 74, {anchor: "start"});

// legend (left)
function legendSwatch(x1, x2, y, color, width, dash) {
  const ns = "http://www.w3.org/2000/svg";
  const s = document.createElementNS(ns, "svg");
  s.setAttribute("width", x2 - x1 + 10);
  s.setAttribute("height", 30);
  s.style.position = "absolute";
  s.style.left = (x1 - 5) + "px";
  s.style.top = (y - 15) + "px";
  const l = document.createElementNS(ns, "line");
  l.setAttribute("x1", 5); l.setAttribute("x2", x2 - x1 + 5);
  l.setAttribute("y1", 15); l.setAttribute("y2", 15);
  l.setAttribute("stroke", color); l.setAttribute("stroke-width", width);
  if (dash) l.setAttribute("stroke-dasharray", dash);
  s.appendChild(l);
  wrap.appendChild(s);
}
const leftLegendY = [196, 253, 311];
leftGroups.forEach((g, i) => {
  legendSwatch(256, 344, leftLegendY[i], groupColor[g], 3.5);
  addText(g, 385, leftLegendY[i], 48, {anchor: "start"});
});

// legend (right)
const rightLegend = [
  {label: "group average", w: 8, dash: null},
  {label: "individual", w: 4, dash: null},
  {label: "unlimited-capacity", w: 4, dash: "20,15"}
];
const rightLegendY = [176, 215, 254];
rightLegend.forEach((e, i) => {
  legendSwatch(2409, 2471, rightLegendY[i], "#000", e.w, e.dash);
  addText(e.label, 2496, rightLegendY[i], 32, {anchor: "start"});
});
</script></body></html>
